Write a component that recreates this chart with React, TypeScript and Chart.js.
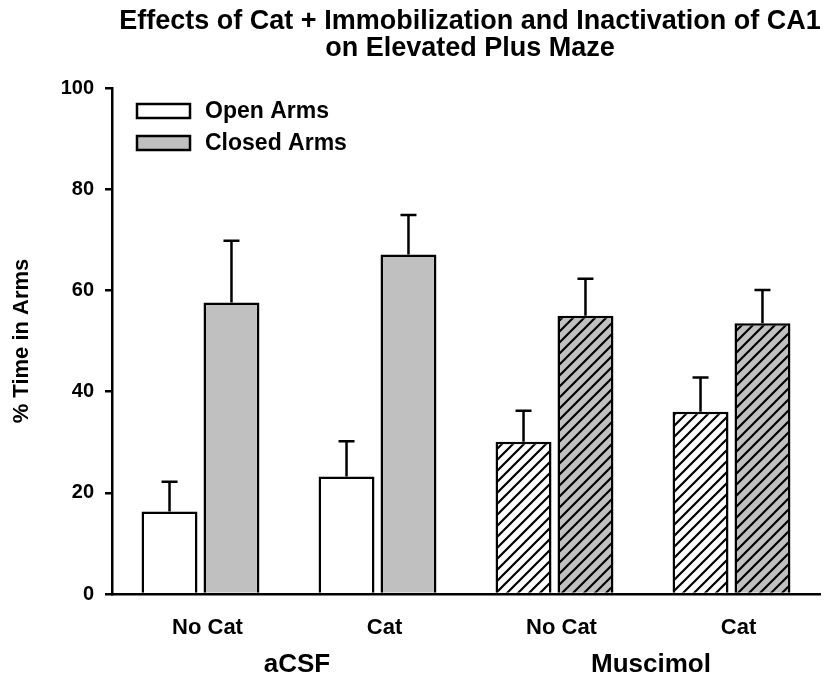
import React, { useEffect, useRef } from "react";
import { Chart, registerables } from "chart.js";

Chart.register(...registerables);

const titleLines = [
  "Effects of Cat + Immobilization and Inactivation of CA1",
  "on Elevated Plus Maze",
];
const categories = ["No Cat", "Cat", "No Cat", "Cat"];
const groupLabels = ["aCSF", "Muscimol"];
const seriesNames = ["Open Arms", "Closed Arms"];
const openArms = [16.3, 23.2, 30.1, 36.0];
const openArmsErr = [5.9, 7.0, 6.1, 6.8];
const closedArms = [57.6, 67.1, 55.0, 53.5];
const closedArmsErr = [12.2, 7.8, 7.3, 6.6];
const hatched = [false, false, true, true];
const yMin = 0;
const yMax = 100;
const yStep = 20;
const yTitle = "% Time in Arms";

const FONT = "'Liberation Sans', Arial, Helvetica, sans-serif";
const OPEN_COLOR = "#ffffff";
const CLOSED_COLOR = "#c0c0c0";

function makeHatch(bg: string): CanvasPattern | string {
  const c = document.createElement("canvas");
  const s = 11;
  c.width = s;
  c.height = s;
  const g = c.getContext("2d");
  if (!g) return bg;
  g.fillStyle = bg;
  g.fillRect(0, 0, s, s);
  g.strokeStyle = "#000";
  g.lineWidth = 2.2;
  g.beginPath();
  g.moveTo(-2, s + 2);
  g.lineTo(s + 2, -2);
  g.moveTo(-3, 3);
  g.lineTo(3, -3);
  g.moveTo(s - 3, s + 3);
  g.lineTo(s + 3, s - 3);
  g.stroke();
  const p = g.createPattern(c, "repeat");
  return p || bg;
}

export default function App() {
  const ref = useRef<HTMLCanvasElement | null>(null);

  useEffect(() => {
    const canvas = ref.current;
    if (!canvas) return;
    const openHatch = makeHatch(OPEN_COLOR);
    const closedHatch = makeHatch(CLOSED_COLOR);
    const errs = [openArmsErr, closedArmsErr];
    const legendColors = [OPEN_COLOR, CLOSED_COLOR];

    const decor = {
      id: "decor",
      afterDatasetsDraw(chart: any) {
        const { ctx, chartArea, scales } = chart;
        const y = scales.y;
        const x = scales.x;
        ctx.save();
        // error bars
        ctx.strokeStyle = "#000";
        ctx.lineWidth = 2.5;
        chart.data.datasets.forEach((ds: any, di: number) => {
          const meta = chart.getDatasetMeta(di);
          meta.data.forEach((bar: any, i: number) => {
            const v = ds.data[i] as number;
            const top = y.getPixelForValue(v + errs[di][i]);
            ctx.beginPath();
            ctx.moveTo(bar.x, bar.y);
            ctx.lineTo(bar.x, top);
            ctx.moveTo(bar.x - 8, top);
            ctx.lineTo(bar.x + 8, top);
            ctx.stroke();
          });
        });
        // legend
        ctx.font = `bold 23px ${FONT}`;
        ctx.textBaseline = "middle";
        ctx.textAlign = "left";
        chart.data.datasets.forEach((ds: any, di: number) => {
          const cy = 111 + di * 32;
          ctx.fillStyle = legendColors[di];
          ctx.fillRect(137, cy - 7, 53, 14);
          ctx.lineWidth = 2.5;
          ctx.strokeStyle = "#000";
          ctx.strokeRect(137, cy - 7, 53, 14);
          ctx.fillStyle = "#000";
          ctx.fillText(ds.label, 205, cy + 1);
        });
        // title
        const cx = (chartArea.left + chartArea.right) / 2 + 4;
        ctx.font = `bold 27px ${FONT}`;
        ctx.textAlign = "center";
        ctx.textBaseline = "alphabetic";
        ctx.fillText(titleLines[0], cx, 29);
        ctx.fillText(titleLines[1], cx, 56);
        // group labels
        ctx.font = `bold 26px ${FONT}`;
        ctx.textBaseline = "middle";
        groupLabels.forEach((g, gi) => {
          const a = x.getPixelForValue(gi * 2);
          const b = x.getPixelForValue(gi * 2 + 1);
          ctx.fillText(g, (a + b) / 2 + 8, 665);
        });
        ctx.restore();
      },
    };

    const chart = new Chart(canvas, {
      type: "bar",
      data: {
        labels: categories,
        datasets: [
          {
            label: seriesNames[0],
            data: openArms,
            backgroundColor: hatched.map((h) => (h ? openHatch : OPEN_COLOR)),
            borderColor: "#000",
            borderWidth: 2.5,
            borderSkipped: "start",
          },
          {
            label: seriesNames[1],
            data: closedArms,
            backgroundColor: hatched.map((h) => (h ? closedHatch : CLOSED_COLOR)),
            borderColor: "#000",
            borderWidth: 2.5,
            borderSkipped: "start",
          },
        ],
      },
      options: {
        responsive: false,
        animation: false,
        events: [],
        layout: { padding: { top: 88, left: 0, right: 8, bottom: 0 } },
        datasets: {
          bar: { categoryPercentage: 0.7, barPercentage: 0.903 },
        },
        plugins: {
          legend: { display: false },
          title: { display: false },
          tooltip: { enabled: false },
        },
        scales: {
          x: {
            grid: { display: false, drawTicks: false },
            border: { display: true, color: "#000", width: 2.5 },
            ticks: {
              color: "#000",
              font: { family: FONT, size: 22, weight: "bold" },
              padding: 21,
              labelOffset: 7,
            },
            afterFit: (s: any) => {
              s.height = 91;
            },
          },
          y: {
            min: yMin,
            max: yMax,
            grid: {
              drawOnChartArea: false,
              drawTicks: true,
              tickLength: 7,
              color: "#000",
              lineWidth: 2.5,
            },
            border: { display: true, color: "#000", width: 2.5 },
            ticks: {
              stepSize: yStep,
              color: "#000",
              padding: 11,
              font: { family: FONT, size: 20, weight: "bold" },
            },
            title: {
              display: true,
              text: yTitle,
              color: "#000",
              font: { family: FONT, size: 22, weight: "bold" },
              padding: { top: 9, bottom: 0 },
            },
            afterFit: (s: any) => {
              s.width = 112;
            },
          },
        },
      },
      plugins: [decor],
    } as any);

    return () => chart.destroy();
  }, []);

  return (
    <div style={{ position: "fixed", left: 0, top: 0, width: 828, height: 685, background: "#fff" }}>
      <canvas ref={ref} width={828} height={685} style={{ display: "block" }} />
    </div>
  );
}
